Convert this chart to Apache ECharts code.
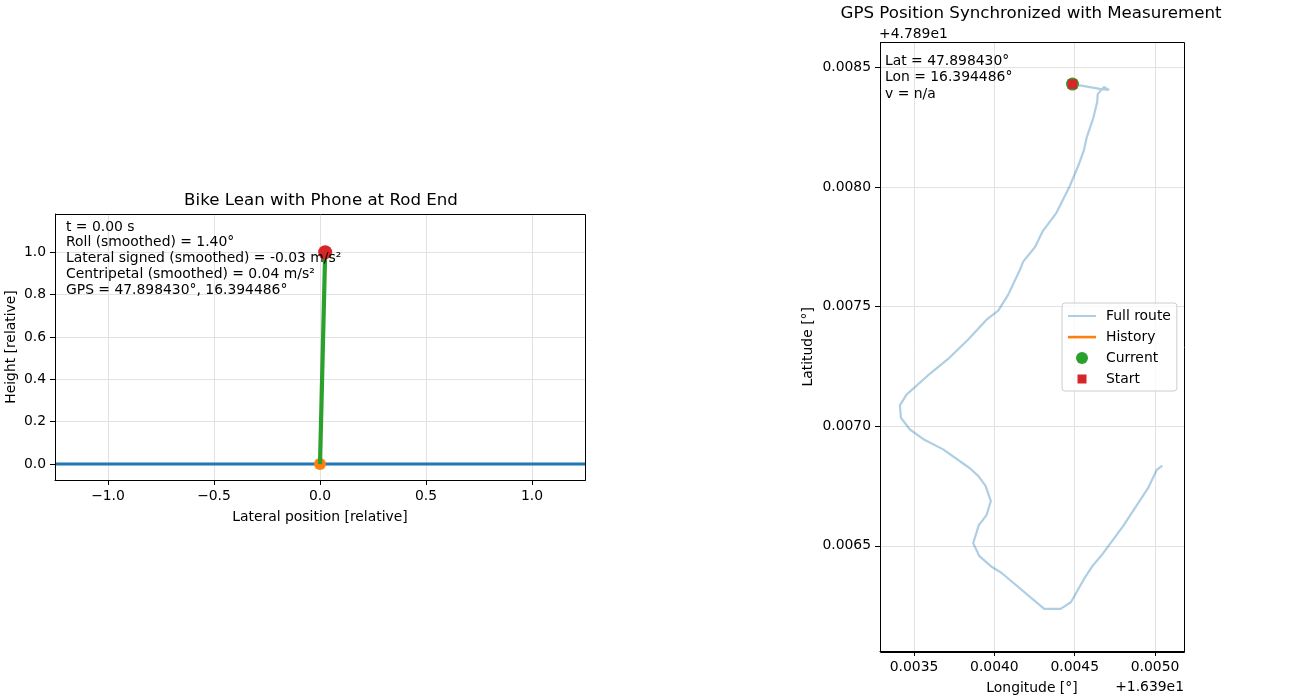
<!DOCTYPE html>
<html>
<head>
<meta charset="utf-8">
<title>Bike Lean and GPS</title>
<script src="https://cdn.jsdelivr.net/npm/echarts@6/dist/echarts.min.js"></script>
<style>
  html, body { margin: 0; padding: 0; background: #fff; }
  #chart { width: 1300px; height: 700px; }
</style>
</head>
<body>
<div id="chart"></div>
<script>
// lean panel
const groundX = [-1.25, 1.25];
const groundY = [0, 0];
const rodX = [0, 0.0244];
const rodY = [0, 0.9997];
const leanXTicks = [-1.0, -0.5, 0.0, 0.5, 1.0];
const leanYTicks = [0.0, 0.2, 0.4, 0.6, 0.8, 1.0];
const leanLines = [
  "t = 0.00 s",
  "Roll (smoothed) = 1.40°",
  "Lateral signed (smoothed) = -0.03 m/s²",
  "Centripetal (smoothed) = 0.04 m/s²",
  "GPS = 47.898430°, 16.394486°"
];

// gps panel, values are offsets from 16.39 / 47.89 like the axis labels
const routeLon = [
  0.004486, 0.004657, 0.004713, 0.004682, 0.004668, 0.004643, 0.00464, 0.004615, 0.004574, 0.004557,
  0.004528, 0.00447, 0.004387, 0.0043, 0.004252, 0.004179, 0.004159, 0.004086, 0.004024, 0.003951,
  0.003837, 0.003712, 0.003598, 0.003453, 0.003412, 0.003418, 0.003474, 0.003567, 0.003681, 0.003847,
  0.003899, 0.003945, 0.003978, 0.003951, 0.003903, 0.003868, 0.003905, 0.003983, 0.004045, 0.00431,
  0.004412, 0.004476, 0.004564, 0.004611, 0.004668, 0.004802, 0.004958, 0.00501, 0.005045
];
const routeLat = [
  0.00843, 0.00841, 0.008406, 0.008418, 0.008408, 0.008388, 0.008356, 0.008287, 0.008206, 0.008154,
  0.008099, 0.008005, 0.007893, 0.007814, 0.007748, 0.007688, 0.007654, 0.00755, 0.007483, 0.007445,
  0.007362, 0.007281, 0.007219, 0.007132, 0.007087, 0.007035, 0.006986, 0.006942, 0.006903, 0.006824,
  0.006792, 0.00675, 0.006687, 0.006628, 0.006586, 0.006511, 0.006458, 0.006412, 0.006386, 0.006236,
  0.006236, 0.006264, 0.006368, 0.006416, 0.006461, 0.006583, 0.006743, 0.006817, 0.006835
];
const currentPos = [0.004486, 0.00843];
const startPos = [0.004486, 0.00843];
const gpsXTicks = [0.0035, 0.0040, 0.0045, 0.0050];
const gpsYTicks = [0.0065, 0.0070, 0.0075, 0.0080, 0.0085];
const gpsLines = ["Lat = 47.898430°", "Lon = 16.394486°", "v = n/a"];

const FONT = "DejaVu Sans";
const routeColor = "rgba(31,119,180,0.36)";

const zip = (xs, ys) => xs.map((x, i) => [x, ys[i]]);

// matplotlib look: black ticks outside, faint grid
const makeAxis = (gridIndex, min, max, ticks, decimals, name, nameGap) => ({
  type: "value",
  gridIndex: gridIndex,
  min: min,
  max: max,
  name: name,
  nameLocation: "middle",
  nameGap: nameGap,
  nameTextStyle: { fontFamily: FONT, fontSize: 13.9, color: "#000" },
  axisLine: { show: true, onZero: false, lineStyle: { color: "#000", width: 1 } },
  axisTick: { show: true, inside: false, length: 5, customValues: ticks, lineStyle: { color: "#000", width: 1 } },
  axisLabel: {
    show: true,
    customValues: ticks,
    margin: 9,
    fontFamily: FONT,
    fontSize: 13.9,
    color: "#000",
    formatter: (v) => v.toFixed(decimals).replace("-", "\u2212")
  },
  splitLine: { show: true, lineStyle: { color: "#e2e2e2", width: 1 } }
});

// keep the stretched legend icons in a 30x12 box by pinning the corners with empty moves
const box = "M0 0L0 0M30 12L30 12";
const lineIcon = "path://" + box + "M1 5L29 5L29 7L1 7Z";
const thickIcon = "path://" + box + "M1 4.8L29 4.8L29 7.4L1 7.4Z";
const dotIcon = "path://" + box + "M21 6A6 6 0 1 1 9 6A6 6 0 1 1 21 6Z";
const squareIcon = "path://" + box + "M10.5 1.5L19.5 1.5L19.5 10.5L10.5 10.5Z";

const frameStyle = { fill: "none", stroke: "#000", lineWidth: 1 };

const chart = echarts.init(document.getElementById("chart"));

chart.setOption({
  animation: false,
  backgroundColor: "#fff",
  title: [
    {
      text: "Bike Lean with Phone at Rod End",
      left: 316, top: 187, textAlign: "center",
      textStyle: { fontFamily: FONT, fontSize: 16.65, fontWeight: "normal", color: "#000" }
    },
    {
      text: "GPS Position Synchronized with Measurement",
      left: 1026, top: 0, textAlign: "center",
      textStyle: { fontFamily: FONT, fontSize: 16.65, fontWeight: "normal", color: "#000" }
    }
  ],
  grid: [
    { left: 55, top: 214, width: 530, height: 266 },
    { left: 880, top: 42.5, width: 304, height: 611 }
  ],
  xAxis: [
    makeAxis(0, -1.25, 1.25, leanXTicks, 1, "Lateral position [relative]", 30),
    makeAxis(1, 0.003288, 0.00518, gpsXTicks, 4, "Longitude [°]", 30)
  ],
  yAxis: [
    makeAxis(0, -0.075, 1.18, leanYTicks, 1, "Height [relative]", 37),
    makeAxis(1, 0.00606, 0.008604, gpsYTicks, 4, "Latitude [°]", 65)
  ],
  legend: {
    left: 1062,
    top: 303,
    orient: "vertical",
    align: "left",
    padding: [6, 6, 5, 5],
    itemWidth: 30,
    itemHeight: 12,
    itemGap: 7,
    backgroundColor: "rgba(255,255,255,0.8)",
    borderColor: "#cccccc",
    borderWidth: 1,
    borderRadius: 3,
    textStyle: { fontFamily: FONT, fontSize: 13.9, color: "#000", padding: [0, 0, 0, 4] },
    data: [
      { name: "Full route", icon: lineIcon, itemStyle: { color: routeColor } },
      { name: "History", icon: thickIcon, itemStyle: { color: "#ff7f0e" } },
      { name: "Current", icon: dotIcon, itemStyle: { color: "#2ca02c" } },
      { name: "Start", icon: squareIcon, itemStyle: { color: "#d62728" } }
    ]
  },
  series: [
    {
      type: "line", name: "Ground", xAxisIndex: 0, yAxisIndex: 0, z: 2,
      data: zip(groundX, groundY), showSymbol: false, silent: true,
      lineStyle: { color: "#1f77b4", width: 3, cap: "butt" }
    },
    {
      type: "scatter", name: "Base", xAxisIndex: 0, yAxisIndex: 0, z: 3,
      data: [[rodX[0], rodY[0]]], symbolSize: 12, itemStyle: { color: "#ff7f0e", opacity: 1 }
    },
    {
      type: "line", name: "Rod", xAxisIndex: 0, yAxisIndex: 0, z: 4,
      data: zip(rodX, rodY), showSymbol: false, silent: true,
      lineStyle: { color: "#2ca02c", width: 4.2, cap: "butt" }
    },
    {
      type: "scatter", name: "Phone", xAxisIndex: 0, yAxisIndex: 0, z: 5,
      data: [[rodX[1], rodY[1]]], symbolSize: 14, itemStyle: { color: "#d62728", opacity: 1 }
    },
    {
      type: "line", name: "Full route", xAxisIndex: 1, yAxisIndex: 1, z: 2,
      data: zip(routeLon, routeLat), showSymbol: false, silent: true,
      lineStyle: { color: routeColor, width: 2.2 }
    },
    {
      // nothing travelled yet at t = 0
      type: "line", name: "History", xAxisIndex: 1, yAxisIndex: 1, z: 3,
      data: [], showSymbol: false, lineStyle: { color: "#ff7f0e", width: 2.6 }
    },
    {
      type: "scatter", name: "Current", xAxisIndex: 1, yAxisIndex: 1, z: 4,
      data: [currentPos], symbolSize: 13, itemStyle: { color: "#2ca02c", opacity: 1 }
    },
    {
      type: "scatter", name: "Start", xAxisIndex: 1, yAxisIndex: 1, z: 5,
      data: [startPos], symbol: "rect", symbolSize: 9.5, itemStyle: { color: "#d62728", opacity: 1 }
    }
  ],
  graphic: [
    { type: "rect", z: 10, silent: true, shape: { x: 55.5, y: 214.5, width: 530, height: 266 }, style: frameStyle },
    { type: "rect", z: 10, silent: true, shape: { x: 880.5, y: 42.5, width: 304, height: 610 }, style: frameStyle },
    {
      type: "text", left: 66, top: 219, z: 20,
      style: { text: leanLines.join("\n"), font: "13.9px '" + FONT + "'", fill: "#000", lineHeight: 15.9 }
    },
    {
      type: "text", left: 885, top: 53, z: 20,
      style: { text: gpsLines.join("\n"), font: "13.9px '" + FONT + "'", fill: "#000", lineHeight: 16.5 }
    },
    {
      type: "text", left: 879, top: 27, z: 20,
      style: { text: "+4.789e1", font: "13.9px '" + FONT + "'", fill: "#000" }
    },
    {
      type: "text", right: 116, top: 680, z: 20,
      style: { text: "+1.639e1", font: "13.9px '" + FONT + "'", fill: "#000" }
    }
  ]
});
</script>
</body>
</html>
